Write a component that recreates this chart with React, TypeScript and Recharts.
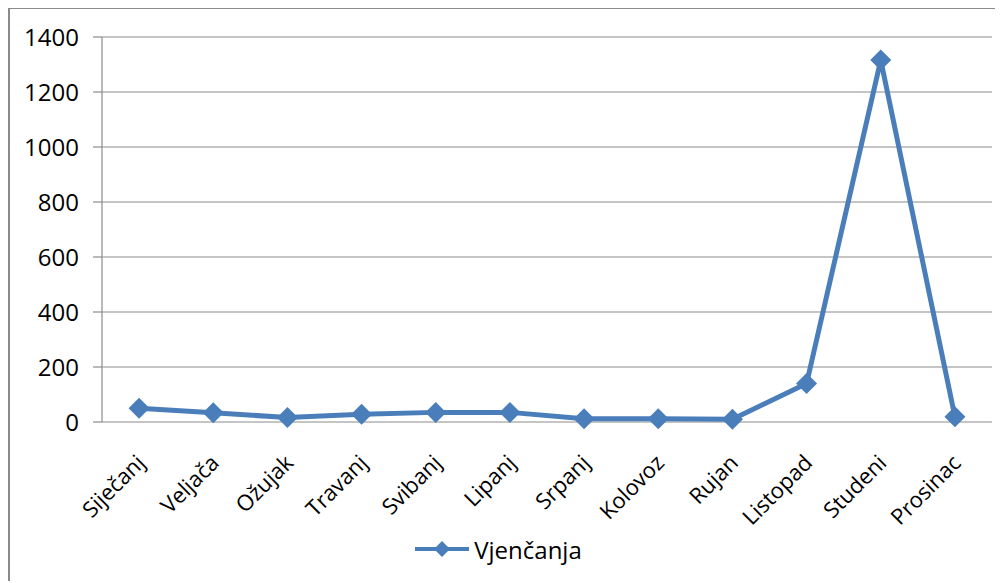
import React from "react";
import { LineChart, Line, XAxis, YAxis, CartesianGrid, Legend } from "recharts";

const months = [
  "Siječanj", "Veljača", "Ožujak", "Travanj", "Svibanj", "Lipanj",
  "Srpanj", "Kolovoz", "Rujan", "Listopad", "Studeni", "Prosinac",
];
const vjencanja = [50, 34, 16, 28, 35, 35, 12, 12, 10, 140, 1316, 19];
const yTicks = [0, 200, 400, 600, 800, 1000, 1200, 1400];
const boundaryTicks = [0, 1, 2, 3, 4, 5, 6, 7, 8, 9, 10, 11, 12];

const data = months.map((m, i) => ({ month: m, v: vjencanja[i] }));

const BLUE = "#4A7EBB";
const GRID = "#8C8C8C";
const FONT = "'Open Sans', sans-serif";

function Diamond(props: any) {
  const { cx, cy } = props;
  if (cx == null || cy == null) return null;
  const r = 10.5;
  return (
    <polygon
      points={`${cx},${cy - r} ${cx + r},${cy} ${cx},${cy + r} ${cx - r},${cy}`}
      fill={BLUE}
    />
  );
}

function MonthTick(props: any) {
  const { x, y, payload } = props;
  return (
    <g transform={`translate(${x + 3},${y + 30})`}>
      <text
        transform="rotate(-45)"
        textAnchor="end"
        fontFamily={FONT}
        fontSize={22}
        fill="#000"
        dy={6}
      >
        {payload.value}
      </text>
    </g>
  );
}

function LegendBox() {
  return (
    <div style={{ display: "flex", justifyContent: "center", alignItems: "center", height: 36, paddingRight: 6 }}>
      <svg width={56} height={20} style={{ marginRight: 4 }}>
        <line x1={1} y1={10} x2={55} y2={10} stroke={BLUE} strokeWidth={4} />
        <polygon points="28,2 36,10 28,18 20,10" fill={BLUE} />
      </svg>
      <span style={{ fontFamily: FONT, fontSize: 24, color: "#000" }}>Vjenčanja</span>
    </div>
  );
}

export default function App() {
  return (
    <div
      style={{
        width: 987,
        height: 572,
        borderLeft: "2px solid #8a8a8a",
        borderTop: "2px solid #8a8a8a",
        marginTop: -1,
        background: "#fff",
      }}
    >
      <LineChart
        width={985}
        height={572}
        data={data}
        margin={{ top: 28, right: 3, left: 0, bottom: 14 }}
      >
        <CartesianGrid horizontal vertical={false} stroke={GRID} strokeWidth={1.2} />
        <XAxis
          xAxisId="b"
          type="number"
          domain={[0, 12]}
          ticks={boundaryTicks}
          height={0}
          axisLine={{ stroke: GRID, strokeWidth: 1.2 }}
          tickLine={{ stroke: GRID, strokeWidth: 1.2 }}
          tickSize={9}
          tick={() => <g />}
        />
        <XAxis
          dataKey="month"
          scale="band"
          interval={0}
          height={109}
          axisLine={false}
          tickLine={false}
          tick={<MonthTick />}
        />
        <YAxis
          width={92}
          domain={[0, 1400]}
          ticks={yTicks}
          interval={0}
          axisLine={{ stroke: GRID, strokeWidth: 1.2 }}
          tickLine={{ stroke: GRID, strokeWidth: 1.2 }}
          tickSize={9}
          tickMargin={14}
          tick={{ fontFamily: FONT, fontSize: 24, fill: "#000" }}
        />
        <Legend verticalAlign="bottom" height={36} content={() => <LegendBox />} />
        <Line
          dataKey="v"
          stroke={BLUE}
          strokeWidth={5}
          dot={<Diamond />}
          activeDot={false}
          isAnimationActive={false}
        />
      </LineChart>
    </div>
  );
}
